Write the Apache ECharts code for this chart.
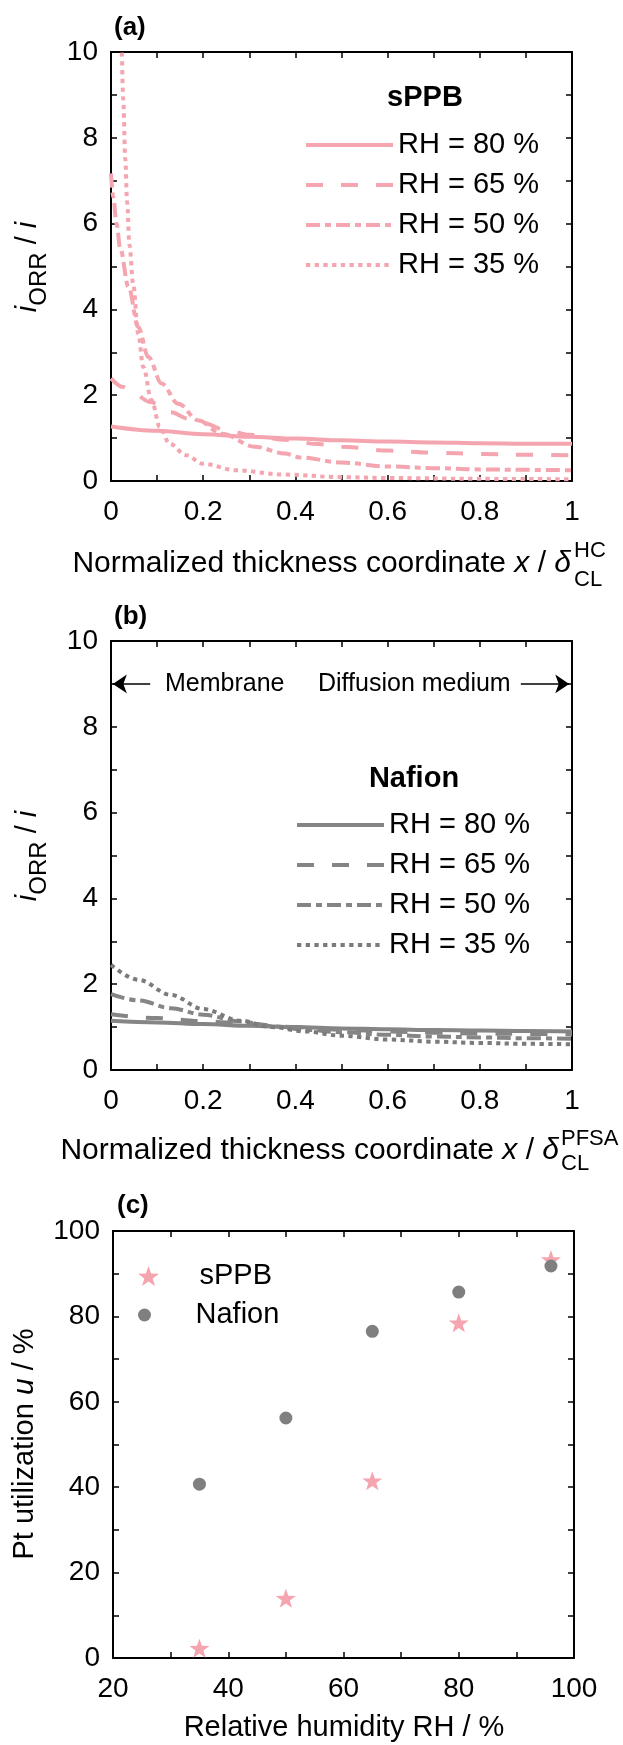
<!DOCTYPE html>
<html><head><meta charset="utf-8">
<script src="https://cdn.jsdelivr.net/npm/echarts@6/dist/echarts.min.js"></script>
<style>html,body{margin:0;padding:0;background:#fff}#c{width:623px;height:1745px}</style>
</head><body><div id="c"></div>
<script>
// ---------- data ----------
const rhLabels = ['RH = 80 %', 'RH = 65 %', 'RH = 50 %', 'RH = 35 %'];

// panel (a) sPPB
const xA80 = [0, 0.1, 0.2, 0.3, 0.4, 0.5, 0.6, 0.7, 0.8, 0.9, 1];
const yA80 = [1.27, 1.17, 1.09, 1.03, 0.99, 0.95, 0.92, 0.90, 0.88, 0.87, 0.87];
const xA65 = [0, 0.026, 0.05, 0.085, 0.13, 0.168, 0.2, 0.246, 0.3, 0.377, 0.45, 0.5, 0.6, 0.7, 0.8, 0.9, 1];
const yA65 = [2.39, 2.19, 2.03, 1.84, 1.6, 1.45, 1.35, 1.2, 1.08, 0.96, 0.86, 0.8, 0.71, 0.66, 0.63, 0.61, 0.6];
const xA50 = [0, 0.005, 0.012, 0.02, 0.038, 0.059, 0.081, 0.11, 0.146, 0.19, 0.24, 0.312, 0.377, 0.41, 0.5, 0.6, 0.7, 0.8, 0.9, 1];
const yA50 = [7.17, 6.62, 6.0, 5.42, 4.52, 3.59, 2.89, 2.27, 1.8, 1.41, 1.1, 0.8, 0.64, 0.55, 0.43, 0.34, 0.3, 0.27, 0.26, 0.25];
const xA35 = [0.02, 0.023, 0.0265, 0.031, 0.035, 0.04, 0.048, 0.059, 0.07, 0.088, 0.106, 0.127, 0.163, 0.2, 0.272, 0.373, 0.5, 0.6, 0.8, 1];
const yA35 = [11.2, 10.0, 8.9, 7.5, 6.5, 5.5, 4.6, 3.43, 2.66, 1.88, 1.26, 0.87, 0.6, 0.4, 0.25, 0.15, 0.09, 0.07, 0.05, 0.04];

// panel (b) Nafion
const xB80 = [0, 0.1, 0.2, 0.3, 0.4, 0.5, 0.6, 0.7, 0.8, 0.9, 1];
const yB80 = [1.15, 1.11, 1.07, 1.03, 1.0, 0.97, 0.95, 0.93, 0.92, 0.91, 0.9];
const xB65 = [0, 0.1, 0.2, 0.3, 0.4, 0.5, 0.6, 0.7, 0.8, 0.9, 1];
const yB65 = [1.3, 1.21, 1.14, 1.07, 1.0, 0.94, 0.9, 0.87, 0.85, 0.84, 0.83];
const xB50 = [0, 0.06, 0.13, 0.2, 0.28, 0.35, 0.42, 0.5, 0.6, 0.7, 0.8, 0.9, 1];
const yB50 = [1.77, 1.62, 1.44, 1.29, 1.13, 1.02, 0.94, 0.88, 0.82, 0.78, 0.76, 0.74, 0.73];
const xB35 = [0, 0.06, 0.13, 0.2, 0.28, 0.35, 0.42, 0.5, 0.6, 0.7, 0.8, 0.9, 1];
const yB35 = [2.45, 2.1, 1.75, 1.42, 1.15, 1.0, 0.9, 0.8, 0.71, 0.66, 0.63, 0.61, 0.6];

// panel (c) Pt utilization
const rh = [35, 50, 65, 80, 96];
const uSPPB = [2.3, 14.0, 41.5, 78.5, 93.3];
const uNafion = [40.7, 56.2, 76.5, 85.7, 91.8];

// annotation arrows (panel b, y = 9)
const arrowLeft = [[0.085, 9], [0.004, 9]];
const arrowRight = [[0.889, 9], [0.994, 9]];

// ---------- styling ----------
const FONT = '"Liberation Sans", Arial, Helvetica, sans-serif';
const PINK = '#F4A5AF';
const GRAY = '#858585';
const DOT_GRAY = '#7b7b7b';
const DASHES = ['solid', [17, 18], [14, 5, 6, 5], [4.3, 4.4]];
const STAR = 'path://M0,-10 L2.35,-3.24 L9.51,-3.09 L3.8,1.24 L5.88,8.09 L0,4.1 L-5.88,8.09 L-3.8,1.24 L-9.51,-3.09 L-2.35,-3.24 Z';

const zip = (xs, ys) => xs.map((x, i) => [x, ys[i]]);

const grids = [
  {left: 111, top: 52, width: 461, height: 429},
  {left: 111, top: 641, width: 461, height: 429},
  {left: 113, top: 1231, width: 461, height: 427}
];

const axisLine = {show: true, onZero: false, lineStyle: {color: '#000', width: 2}};
const axisTick = {show: true, inside: true, length: 6, lineStyle: {color: '#000', width: 1.5}};
const lbl = (margin, fmt) => ({show: true, color: '#000', fontSize: 28, fontFamily: FONT, margin: margin, formatter: fmt});
const fmtTenth = v => { const k = Math.round(v * 10); return k % 2 === 0 ? String(k / 10) : ''; };
const fmtEven = v => (Math.round(v) % 2 === 0 ? String(Math.round(v)) : '');
const fmt20 = v => (Math.round(v) % 20 === 0 ? String(Math.round(v)) : '');

function xPair(g, min, max, interval, fmt) {
  return [
    {type: 'value', gridIndex: g, min, max, interval, position: 'bottom', axisLine, axisTick, splitLine: {show: false}, axisLabel: lbl(17, fmt)},
    {type: 'value', gridIndex: g, min, max, interval, position: 'top', axisLine, axisTick, splitLine: {show: false}, axisLabel: {show: false}}
  ];
}
function yPair(g, min, max, interval, fmt) {
  return [
    {type: 'value', gridIndex: g, min, max, interval, position: 'left', axisLine, axisTick, splitLine: {show: false}, axisLabel: lbl(13, fmt)},
    {type: 'value', gridIndex: g, min, max, interval, position: 'right', axisLine, axisTick, splitLine: {show: false}, axisLabel: {show: false}}
  ];
}

const xAxis = [].concat(xPair(0, 0, 1, 0.1, fmtTenth), xPair(1, 0, 1, 0.1, fmtTenth), xPair(2, 20, 100, 10, fmt20));
const yAxis = [].concat(yPair(0, 0, 10, 1, fmtEven), yPair(1, 0, 10, 1, fmtEven), yPair(2, 0, 100, 10, fmt20));

const labelMap = {};
function lineSeries(name, label, xi, xs, ys, color, dash, extra) {
  labelMap[name] = label;
  return Object.assign({
    name, type: 'line', xAxisIndex: xi, yAxisIndex: xi,
    data: zip(xs, ys), symbol: 'none', showSymbol: false,
    smooth: 0.35, smoothMonotone: 'x', clip: true,
    itemStyle: {color},
    lineStyle: {color, width: 4, type: dash, cap: 'butt'},
    emphasis: {disabled: true}
  }, extra || {});
}

const series = [
  lineSeries('a80', rhLabels[0], 0, xA80, yA80, PINK, DASHES[0]),
  lineSeries('a65', rhLabels[1], 0, xA65, yA65, PINK, DASHES[1]),
  lineSeries('a50', rhLabels[2], 0, xA50, yA50, PINK, DASHES[2]),
  lineSeries('a35', rhLabels[3], 0, xA35, yA35, PINK, DASHES[3]),
  lineSeries('b80', rhLabels[0], 2, xB80, yB80, GRAY, DASHES[0], {
    markLine: {
      silent: true, animation: false,
      symbol: ['none', 'arrow'], symbolSize: 14,
      label: {show: false},
      lineStyle: {color: '#000', width: 1.5, type: 'solid'},
      data: [
        [{coord: arrowLeft[0]}, {coord: arrowLeft[1]}],
        [{coord: arrowRight[0]}, {coord: arrowRight[1]}]
      ]
    }
  }),
  lineSeries('b65', rhLabels[1], 2, xB65, yB65, GRAY, DASHES[1]),
  lineSeries('b50', rhLabels[2], 2, xB50, yB50, GRAY, DASHES[2]),
  lineSeries('b35', rhLabels[3], 2, xB35, yB35, DOT_GRAY, DASHES[3]),
  {name: 'sPPB', type: 'scatter', xAxisIndex: 4, yAxisIndex: 4, data: zip(rh, uSPPB),
   symbol: STAR, symbolSize: 20, symbolKeepAspect: true, itemStyle: {color: PINK, opacity: 1}, emphasis: {disabled: true}},
  {name: 'Nafion', type: 'scatter', xAxisIndex: 4, yAxisIndex: 4, data: zip(rh, uNafion),
   symbol: 'circle', symbolSize: 13, itemStyle: {color: '#7f7f7f', opacity: 1}, emphasis: {disabled: true}}
];
labelMap['sPPB'] = 'sPPB';
labelMap['Nafion'] = 'Nafion';

const legendText = {color: '#000', fontSize: 29, fontFamily: FONT, lineHeight: 29};
function lineLegend(names, left, top) {
  return {
    data: names, orient: 'vertical', left, top, padding: 0,
    itemWidth: 87, itemHeight: 14, itemGap: 11, selectedMode: false,
    formatter: n => labelMap[n], textStyle: legendText,
    lineStyle: {width: 4, opacity: 1},
    itemStyle: {opacity: 0, borderWidth: 0}
  };
}
const legends = [
  lineLegend(['a80', 'a65', 'a50', 'a35'], 304, 130.5),
  lineLegend(['b80', 'b65', 'b50', 'b35'], 295, 810.5),
  {data: ['sPPB'], orient: 'vertical', left: 138, top: 1261.5, padding: 0, itemWidth: 92, itemHeight: 20,
   selectedMode: false, formatter: n => labelMap[n], textStyle: legendText},
  {data: ['Nafion'], orient: 'vertical', left: 138, top: 1300.5, padding: 0, itemWidth: 92, itemHeight: 13,
   selectedMode: false, formatter: n => labelMap[n], textStyle: legendText}
];

// ---------- texts ----------
function T(x, y, text, o) {
  o = o || {};
  const style = {
    text, fill: '#000', fontFamily: FONT, fontSize: o.size || 29,
    fontWeight: o.weight || 'normal', fontStyle: 'normal',
    align: o.align || 'left', verticalAlign: o.valign || 'middle',
    textAlign: o.align || 'left', textVerticalAlign: o.valign || 'middle'
  };
  if (o.rich) style.rich = o.rich;
  return {type: 'text', x, y, rotation: o.rot || 0, silent: true, z: 100, style};
}
const richY = {
  i: {fontStyle: 'italic', fontSize: 29, fontFamily: FONT, verticalAlign: 'top'},
  n: {fontSize: 29, fontFamily: FONT, verticalAlign: 'top'},
  s: {fontSize: 24, fontFamily: FONT, verticalAlign: 'top', padding: [14, 0, 0, 0]}
};
const richX = {i: {fontStyle: 'italic', fontSize: 30, fontFamily: FONT}};
const yTitle = '{i|i}{s|ORR}{n| / }{i|i}';
const xTitle = 'Normalized thickness coordinate {i|x} / {i|δ}';

const graphic = [
  T(114, 28, '(a)', {size: 26, weight: 'bold'}),
  T(114, 617, '(b)', {size: 26, weight: 'bold'}),
  T(117, 1206, '(c)', {size: 26, weight: 'bold'}),
  T(425, 98, 'sPPB', {weight: 'bold', align: 'center'}),
  T(414, 779, 'Nafion', {weight: 'bold', align: 'center'}),
  T(165, 684, 'Membrane', {size: 25}),
  T(318, 684, 'Diffusion medium', {size: 25}),
  T(13, 267, yTitle, {rot: Math.PI / 2, align: 'center', valign: 'top', rich: richY}),
  T(13, 856, yTitle, {rot: Math.PI / 2, align: 'center', valign: 'top', rich: richY}),
  T(25, 1444, 'Pt utilization {i|u} / %', {rot: Math.PI / 2, align: 'center', rich: richX}),
  T(571, 564, xTitle, {align: 'right', size: 30, rich: richX}),
  T(574, 551, 'HC', {size: 22}),
  T(574, 580, 'CL', {size: 22}),
  T(559, 1151, xTitle, {align: 'right', size: 30, rich: richX}),
  T(561, 1139, 'PFSA', {size: 22}),
  T(561, 1164, 'CL', {size: 22}),
  T(344, 1728, 'Relative humidity RH / %', {align: 'center'})
];

const chart = echarts.init(document.getElementById('c'), null, {renderer: 'canvas'});
chart.setOption({
  animation: false,
  backgroundColor: '#fff',
  grid: grids,
  xAxis, yAxis, series,
  legend: legends,
  graphic
});
</script></body></html>
